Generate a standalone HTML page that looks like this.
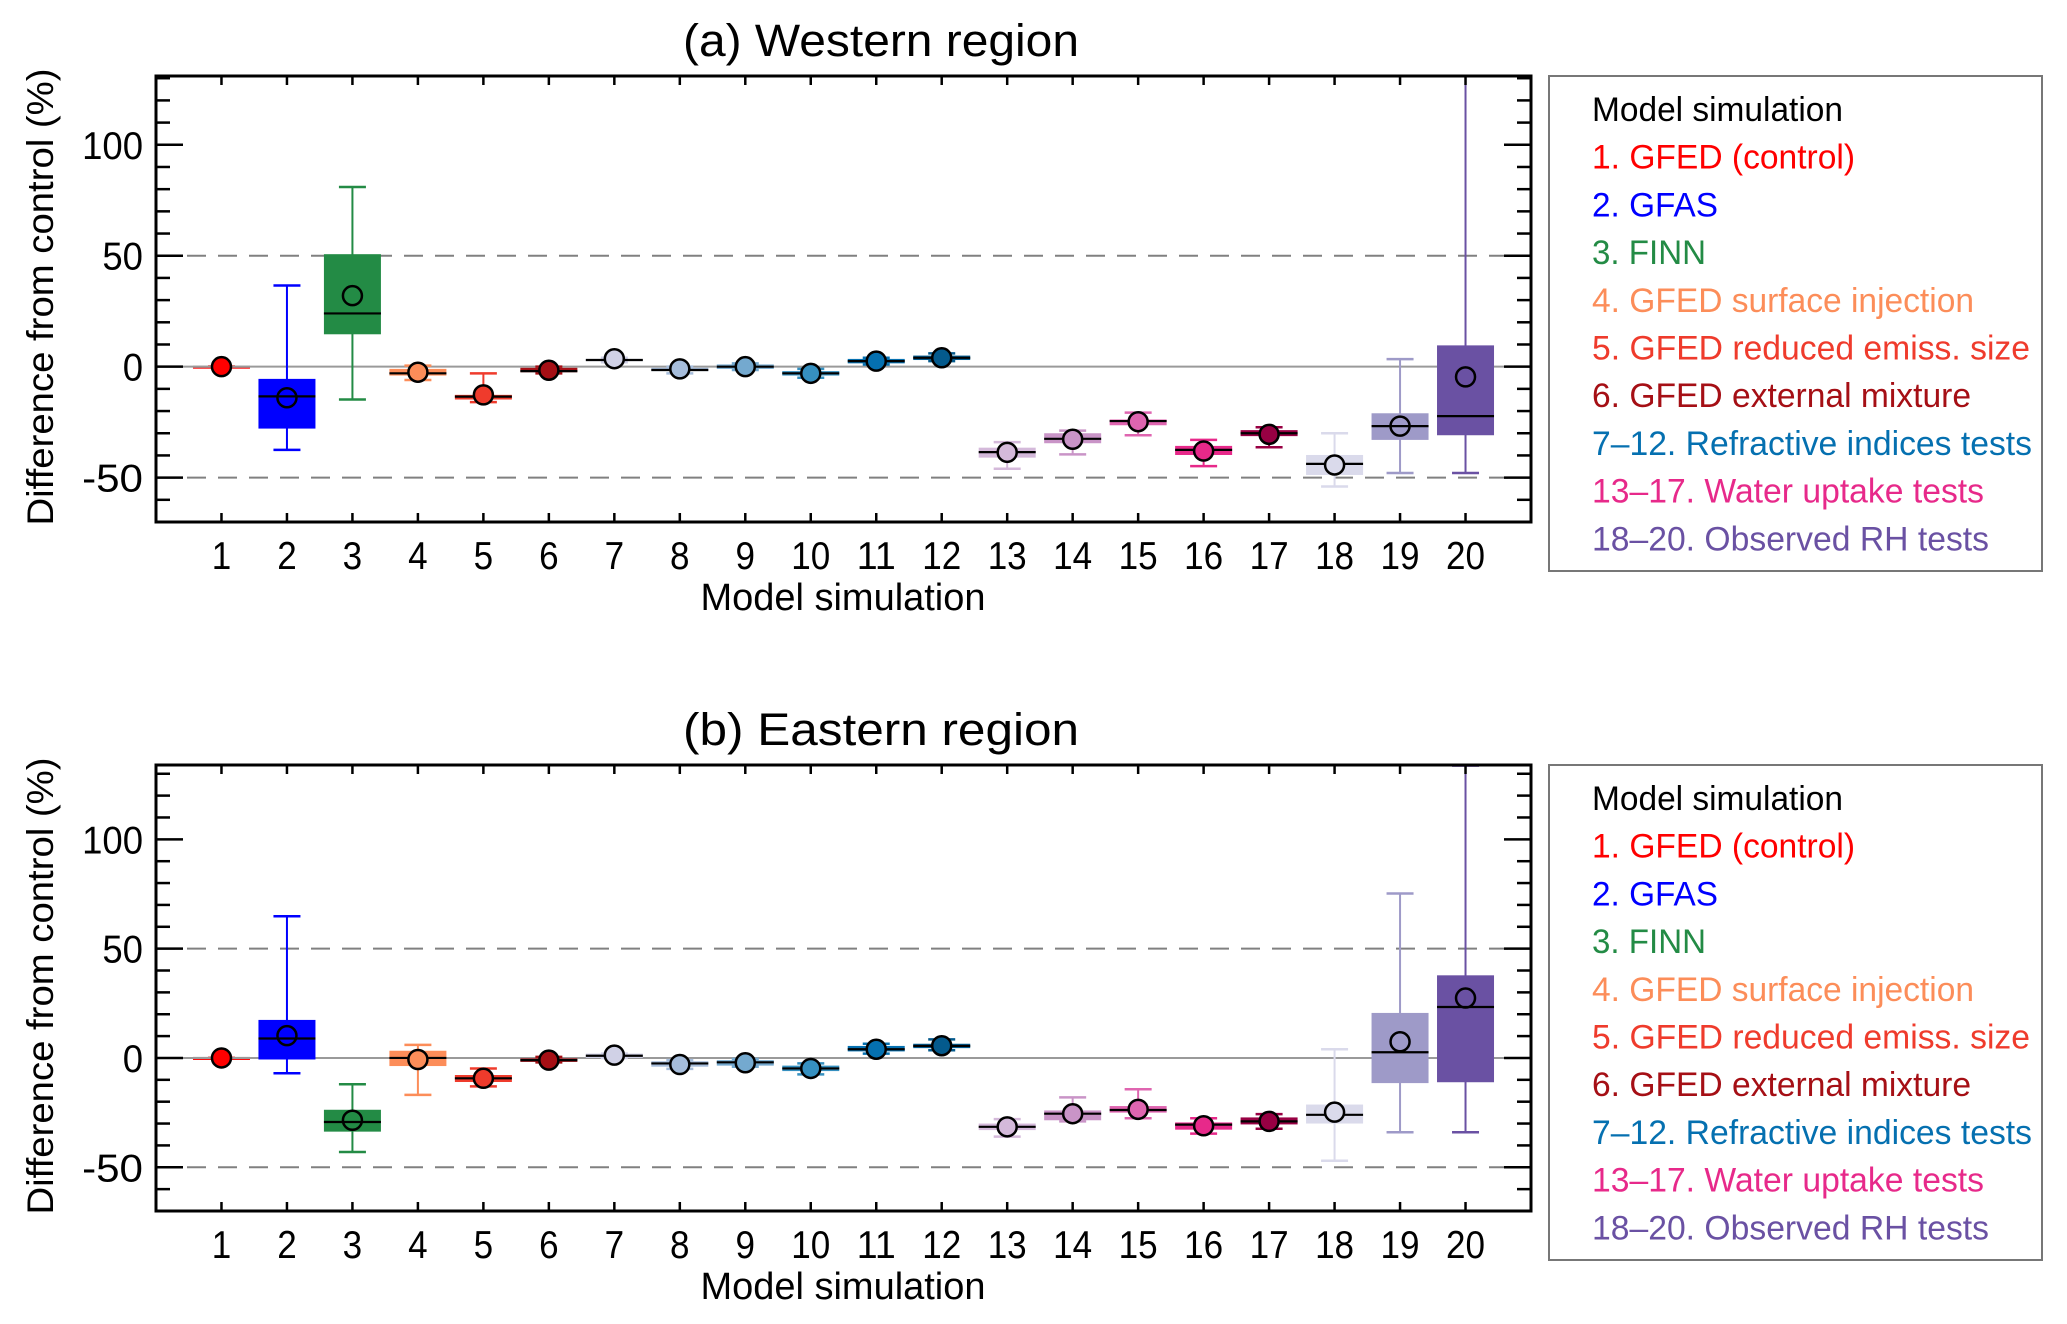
<!DOCTYPE html>
<html><head><meta charset="utf-8"><style>
html,body{margin:0;padding:0;background:#fff;}
svg{display:block;font-family:"Liberation Sans",Arial,sans-serif;}
</style></head><body>
<svg id="chart" width="2067" height="1324" viewBox="0 0 2067 1324" xmlns="http://www.w3.org/2000/svg"></svg>
<script>
// ---- data ----
const categories = [1,2,3,4,5,6,7,8,9,10,11,12,13,14,15,16,17,18,19,20];
const yTicks = [-50, 0, 50, 100];
const legendLabels = ["1. GFED (control)","2. GFAS","3. FINN","4. GFED surface injection","5. GFED reduced emiss. size","6. GFED external mixture","7\u201312. Refractive indices tests","13\u201317. Water uptake tests","18\u201320. Observed RH tests"];
// Panel (a) Western region
const aWhiskLo = [0,-37.5,-14.8,-6,-16,-3,2,-3,-1.5,-5,1,2.5,-46,-39.5,-30.9,-44.8,-36.3,-54,-47.9,-47.9];
const aBoxLo   = [0,-27.9,14.6,-4,-14.8,-2.5,2.5,-2,-1,-4,1.5,3,-41,-34.5,-26.4,-39.8,-31.3,-48.8,-33,-30.9];
const aMedian  = [0,-13.4,24,-3,-13.5,-2,3,-1.5,0,-3,2.5,4,-38.5,-32.5,-24.5,-37.5,-30,-43.8,-26.8,-22.3];
const aBoxHi   = [0,-5.5,50.7,-1,-12.7,-0.5,3.5,-0.5,1,-2,3.5,5,-36.5,-30,-23.8,-35.7,-28.6,-39.8,-21,9.6];
const aWhiskHi = [0,36.6,81,0.5,-3,0,4,0,1.5,-1,4,6,-34,-28.8,-20.7,-33,-27.3,-30,3.4,131];
const aMean    = [0,-14,32,-2.5,-12.7,-1.6,3.6,-1,0,-3,2.5,4,-38.6,-32.7,-24.8,-38,-30.5,-44.3,-26.8,-4.6];
// Panel (b) Eastern region
const bWhiskLo = [0,-7,-43,-16.9,-13,-2,0,-5,-4,-7.5,2,3.5,-36,-29,-27.6,-34.6,-32.4,-47,-34,-34];
const bBoxLo   = [0,-0.7,-33.7,-3.7,-11,-1.8,0,-4,-3.5,-6,3,4.5,-33,-28.5,-25,-32.8,-30.4,-30,-11.5,-11.1];
const bMedian  = [0,8.9,-29.3,0,-9.3,-1,1,-2.5,-2,-4.8,4,5.5,-31.5,-25.5,-23.8,-30.5,-29,-26,2.6,23.3];
const bBoxHi   = [0,17.4,-23.7,3.3,-7.8,-0.2,2,-1.5,-1,-3.5,5.5,6.5,-30,-24,-22,-29.5,-27.2,-21.3,20.6,37.8];
const bWhiskHi = [0,64.8,-12,6,-4.8,0.5,2,-1,-0.5,-2.5,6.5,8.5,-28,-18,-14.3,-27.6,-25.7,4,75.2,133.7];
const bMean    = [0,10.2,-28.5,-0.7,-9.3,-1,1.3,-3,-2.2,-4.8,4,5.6,-31.5,-25.5,-23.5,-31,-29,-24.8,7.4,27.4];

// ---- styling ----
const colors = ["#ff0000","#0000ff","#238b45","#fc8d59","#ef3b2c","#a50f15","#d0d1e6","#a6bddb","#74a9cf","#3690c0","#0570b0","#045a8d","#d4b9da","#c994c7","#df65b0","#e7298a","#980043","#dadaeb","#9e9ac8","#6a51a3"];
const legendColors = ["#ff0000","#0000ff","#238b45","#fc8d59","#ef3b2c","#a50f15","#0570b0","#e7298a","#6a51a3"];
const legendWidths = [263,126,114,382,438,379,440,392,397];
const NS = "http://www.w3.org/2000/svg";
const svg = document.getElementById("chart");
function mk(tag, attrs, parent){const e=document.createElementNS(NS,tag);for(const k in attrs)e.setAttribute(k,attrs[k]);(parent||svg).appendChild(e);return e;}

const L=156, R=1531;
function xS(c){return L+(c/21)*(R-L);}

function panel(id, title, top, bottom, yMin, yMax, wl, bl, md, bh, wh, mn, lgTop, lgBottom){
  const g=mk("g",{});
  
  
  const yS=v=>bottom-(v-yMin)/(yMax-yMin)*(bottom-top);
  const clip=v=>Math.max(yMin,Math.min(yMax,v));
  const t=mk("text",{x:881,y:top-20,"font-size":45,"text-anchor":"middle",textLength:396,lengthAdjust:"spacingAndGlyphs"},g);
  t.textContent=title;
  
  
  const z=mk("line",{x1:L,x2:R,y1:yS(0),y2:yS(0),stroke:"#9a9a9a","stroke-width":2},g);
  
  
  [50,-50].forEach(v=>{
    const d=mk("line",{x1:L,x2:R,y1:yS(v),y2:yS(v),stroke:"#808080","stroke-width":2,"stroke-dasharray":"19,12"},g);
    
    
  });
  categories.forEach((c,i)=>{
    const x=xS(c), col=colors[i], bw=57, cw=27;
    const bg=mk("g",{},g);
    
    
    const wy1=yS(clip(wh[i])), wy2=yS(clip(wl[i]));
    mk("line",{x1:x,x2:x,y1:wy1,y2:wy2,stroke:col,"stroke-width":2},bg);
    mk("line",{x1:x-cw/2,x2:x+cw/2,y1:wy1,y2:wy1,stroke:col,"stroke-width":2.5},bg);
    mk("line",{x1:x-cw/2,x2:x+cw/2,y1:wy2,y2:wy2,stroke:col,"stroke-width":2.5},bg);
    const by1=yS(bh[i]), by2=yS(bl[i]);
    mk("rect",{x:x-bw/2,y:by1,width:bw,height:Math.max(by2-by1,2),fill:col},bg);
    mk("line",{x1:x-bw/2,x2:x+bw/2,y1:yS(md[i]),y2:yS(md[i]),stroke:i===0?"#9a9a9a":"#000","stroke-width":2.2},bg);
    const ci=mk("circle",{cx:x,cy:yS(mn[i]),r:9.5,fill:(i===1||i===2||i===18||i===19)?"none":col,stroke:"#000","stroke-width":2.5},bg);
    
    
  });
  const fr=mk("rect",{x:L,y:top,width:R-L,height:bottom-top,fill:"none",stroke:"#000","stroke-width":3},g);
  
  
  for(let v=Math.ceil(yMin/10)*10; v<=yMax; v+=10){
    const len=(v%50===0)?27:14, y=yS(v);
    mk("line",{x1:L,x2:L+len,y1:y,y2:y,stroke:"#000","stroke-width":2.5},g);
    mk("line",{x1:R,x2:R-len,y1:y,y2:y,stroke:"#000","stroke-width":2.5},g);
  }
  yTicks.forEach(v=>{
    const s=String(v);
    const tl=mk("text",{x:143,y:yS(v)+14,"font-size":39,"text-anchor":"end",textLength:s.length*20.3,lengthAdjust:"spacingAndGlyphs"},g);
    tl.textContent=s;
    
    
  });
  categories.forEach(c=>{
    const x=xS(c);
    mk("line",{x1:x,x2:x,y1:bottom,y2:bottom-9,stroke:"#000","stroke-width":2.5},g);
    mk("line",{x1:x,x2:x,y1:top,y2:top+9,stroke:"#000","stroke-width":2.5},g);
    const s=String(c);
    const tl=mk("text",{x:x,y:bottom+47,"font-size":39,"text-anchor":"middle",textLength:s.length*19.5,lengthAdjust:"spacingAndGlyphs"},g);
    tl.textContent=s;
    
    
  });
  const xt=mk("text",{x:843,y:bottom+88,"font-size":38,"text-anchor":"middle",textLength:285,lengthAdjust:"spacingAndGlyphs"},g);
  xt.textContent="Model simulation";
  
  
  const cy=(top+bottom)/2-2;
  const yt=mk("text",{x:0,y:0,"font-size":37,"text-anchor":"middle",transform:`translate(53,${cy}) rotate(-90)`,textLength:457,lengthAdjust:"spacingAndGlyphs"},g);
  yt.textContent="Difference from control (%)";
  
  
  const lg=mk("g",{},g);
  
  
  mk("rect",{x:1549,y:lgTop,width:493,height:lgBottom-lgTop,fill:"#fff",stroke:"#777","stroke-width":2},lg);
  const step=47.7, y0=lgTop+33+12;
  const lh=mk("text",{x:1592,y:y0,"font-size":34,fill:"#000",textLength:251,lengthAdjust:"spacingAndGlyphs"},lg);
  lh.textContent="Model simulation";
  
  
  legendLabels.forEach((s,i)=>{
    const te=mk("text",{x:1592,y:y0+step*(i+1),"font-size":34,fill:legendColors[i],textLength:legendWidths[i],lengthAdjust:"spacingAndGlyphs"},lg);
    te.textContent=s;
    
    
  });
}
panel("panel-a-western","(a) Western region",76,522,-70,131,aWhiskLo,aBoxLo,aMedian,aBoxHi,aWhiskHi,aMean,76,571);
panel("panel-b-eastern","(b) Eastern region",765,1211,-70,134,bWhiskLo,bBoxLo,bMedian,bBoxHi,bWhiskHi,bMean,765,1260);
</script>
</body></html>
